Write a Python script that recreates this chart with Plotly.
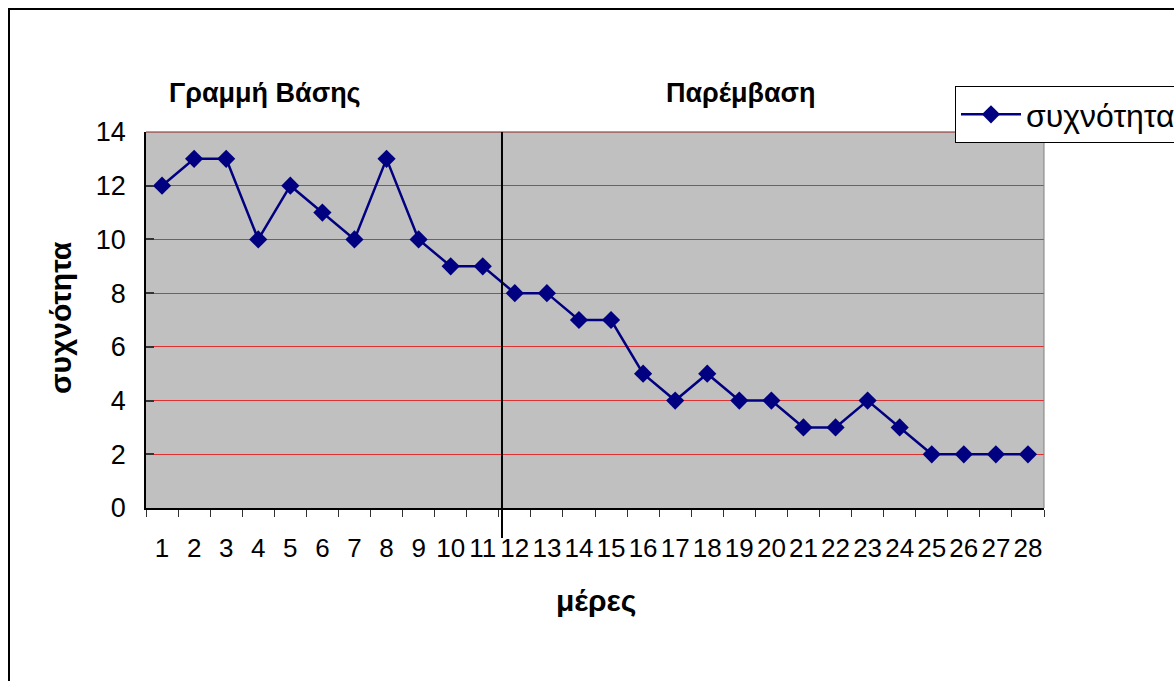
import plotly.graph_objects as go

# Daily frequency over the baseline and intervention phases
days = [str(d) for d in range(1, 29)]
frequency = [12, 13, 13, 10, 12, 11, 10, 13, 10, 9, 9, 8, 8, 7, 7, 5, 4, 5, 4, 4, 3, 3, 4, 3, 2, 2, 2, 2]
y_ticks = [0, 2, 4, 6, 8, 10, 12, 14]
phase_labels = ["Γραμμή Βάσης", "Παρέμβαση"]
phase_split = 10.6  # category position of the phase-change line

FONT = "Liberation Sans, Arial, sans-serif"
NAVY = "#000080"

L, R, T, B = 146, 130, 132, 173
W, H = 1174, 681
PW, PH = W - L - R, H - T - B


def px_x(px):
    return (px - L) / PW


def px_y(py):
    return (H - B - py) / PH


fig = go.Figure()
fig.add_trace(go.Scatter(
    x=days, y=frequency, mode="lines+markers", name="συχνότητα",
    line=dict(color=NAVY, width=2.5),
    marker=dict(symbol="diamond", size=14, color=NAVY),
))

fig.update_layout(
    width=W, height=H,
    margin=dict(l=L, r=R, t=T, b=B, autoexpand=False),
    paper_bgcolor="white", plot_bgcolor="#C0C0C0",
    font=dict(family=FONT, color="black"),
    showlegend=True,
    legend=dict(
        x=px_x(955), y=px_y(86), xanchor="left", yanchor="top",
        bgcolor="white", bordercolor="black", borderwidth=1,
        font=dict(size=32, family=FONT), itemwidth=60,
        tracegroupgap=0,
    ),
    xaxis=dict(
        type="category", range=[-0.5, 27.5], tickson="boundaries",
        ticks="outside", ticklen=7, tickcolor="#333", tickwidth=1,
        showline=True, linecolor="black", linewidth=1.5,
        showgrid=False, zeroline=False, tickangle=0,
        tickfont=dict(size=26), ticklabelstandoff=16,
    ),
    yaxis=dict(
        range=[0, 14], tickvals=y_ticks,
        ticks="inside", ticklen=8, tickcolor="#333", tickwidth=1.5,
        showline=True, linecolor="black", linewidth=1.5,
        showgrid=True, gridcolor="#E03030", gridwidth=1, zeroline=False,
        tickfont=dict(size=27), ticklabelstandoff=13,
    ),
)

# outer chart frame
fig.add_shape(type="rect", xref="paper", yref="paper",
              x0=px_x(9), x1=px_x(1230), y0=px_y(740), y1=px_y(9),
              line=dict(color="black", width=2), fillcolor="rgba(0,0,0,0)", layer="below")
# plot area right border
fig.add_shape(type="line", xref="paper", yref="paper",
              x0=1, x1=1, y0=0, y1=1, line=dict(color="#808080", width=1))
# top gridline at 14
fig.add_shape(type="line", xref="paper", yref="paper",
              x0=0, x1=1, y0=1, y1=1, line=dict(color="#8B2020", width=1))
# phase-change line
fig.add_shape(type="line", xref="x", yref="paper",
              x0=phase_split, x1=phase_split, y0=px_y(538), y1=1,
              line=dict(color="black", width=2))


def label(text, cx, cy, size, angle=0):
    fig.add_annotation(text=text, xref="paper", yref="paper",
                       x=px_x(cx), y=px_y(cy), xanchor="center", yanchor="middle",
                       showarrow=False, textangle=angle, font=dict(size=size))


# phase labels
label("<b>" + phase_labels[0] + "</b>", 265, 93, 27)
label("<b>" + phase_labels[1] + "</b>", 741, 93, 27)

# axis titles
label("<b>μέρες</b>", 596, 600, 30)
label("<b>συχνότητα</b>", 60, 318, 30, angle=-90)

fig.write_html("out.html")
